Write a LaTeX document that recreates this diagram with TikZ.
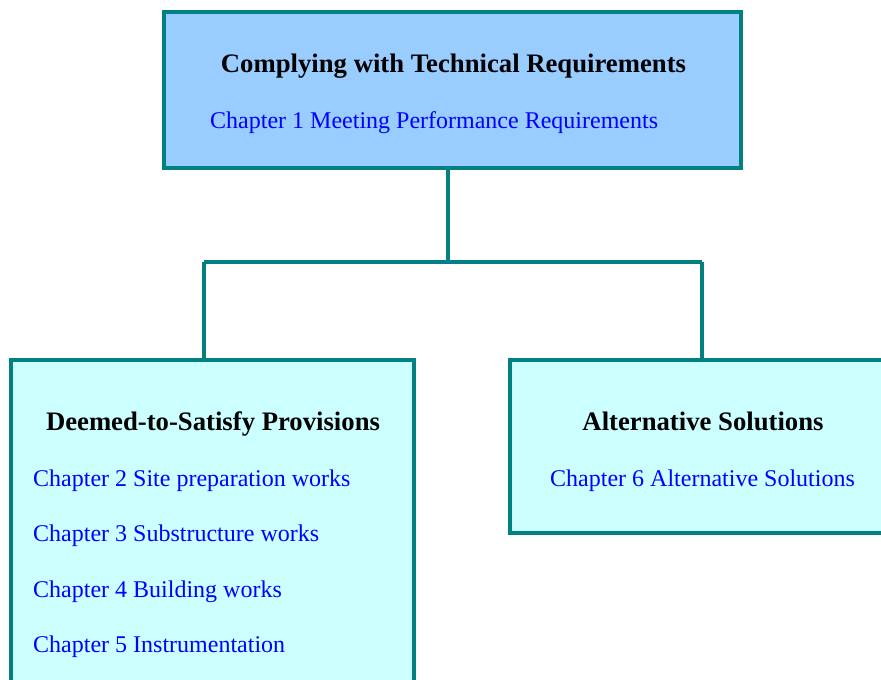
\documentclass[tikz,border=0pt]{standalone}
\usepackage{fontspec}
\setmainfont{Liberation Serif}
\definecolor{edge}{RGB}{0,128,128}
\definecolor{topfill}{RGB}{153,204,255}
\definecolor{subfill}{RGB}{204,255,255}
\definecolor{chap}{RGB}{0,0,255}
\tikzset{
  box/.style={draw=edge, line width=3.5pt},
  link/.style={draw=edge, line width=3.5pt},
  head/.style={font=\fontsize{26.7}{30}\selectfont\bfseries, text=black, inner sep=0pt},
  chapter/.style={font=\fontsize{24}{28}\selectfont, text=chap, inner sep=0pt},
}
\begin{document}
\begin{tikzpicture}[x=1pt,y=-1pt]
\useasboundingbox (0,0) rectangle (881,680);
\clip (0,0) rectangle (881,680);
% boxes
\path[box, fill=topfill] (164,12) rectangle (741,168);
\path[box, fill=subfill] (11,360) rectangle (414,700);
\path[box, fill=subfill] (510,360) rectangle (900,533);
% anchor coordinates
\coordinate (topb) at (448,168);
\coordinate (junc) at (448,262);
\coordinate (leftt) at (204,360);
\coordinate (rightt) at (702,360);
\draw[link] (topb) -- (junc);
\draw[link] (leftt |- junc) -- (rightt |- junc);
\draw[link] (leftt |- junc) -- (leftt);
\draw[link] (rightt |- junc) -- (rightt);
% texts
\node[head, anchor=base] (t0) at (453.5,72) {Complying with Technical Requirements};
\node[chapter, anchor=base west] (c1) at (210,128) {Chapter 1 Meeting Performance Requirements};
\node[head, anchor=base] (t1) at (213,430) {Deemed-to-Satisfy Provisions};
\node[chapter, anchor=base west] (c2) at (33,486) {Chapter 2 Site preparation works};
\node[chapter, anchor=base west] (c3) at (33,541) {Chapter 3 Substructure works};
\node[chapter, anchor=base west] (c4) at (33,597) {Chapter 4 Building works};
\node[chapter, anchor=base west] (c5) at (33,652) {Chapter 5 Instrumentation};
\node[head, anchor=base] (t2) at (703,430) {Alternative Solutions};
\node[chapter, anchor=base] (c6) at (702.5,486) {Chapter 6 Alternative Solutions};
\end{tikzpicture}
\end{document}
